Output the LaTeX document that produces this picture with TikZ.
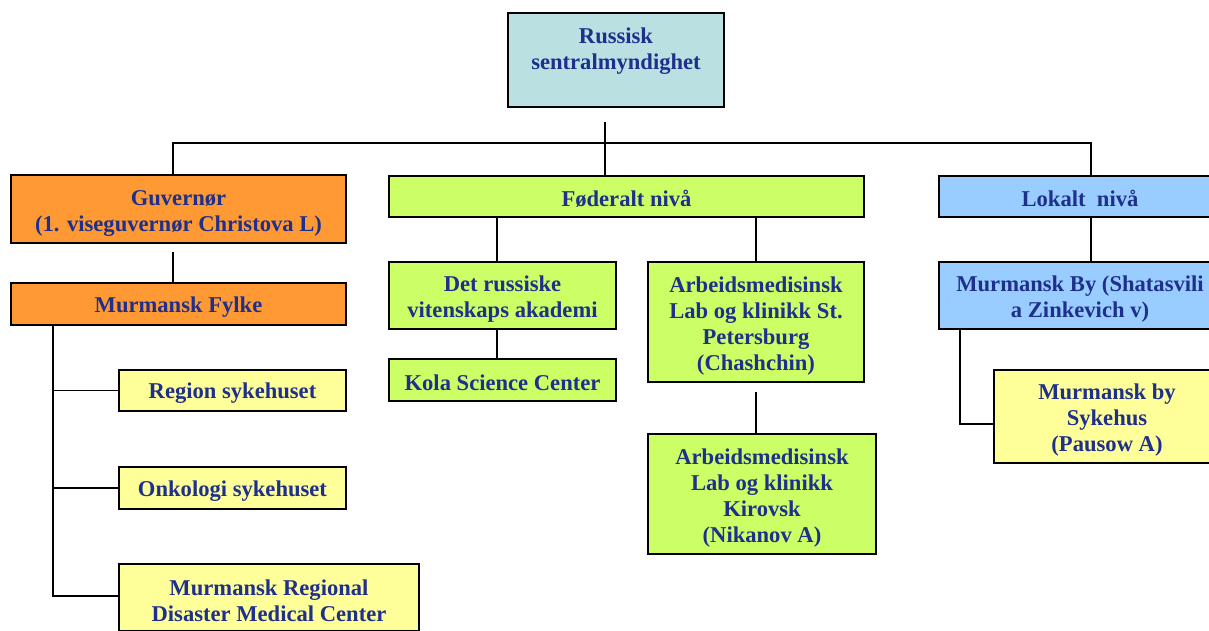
\documentclass[tikz,border=0pt]{standalone}
\usepackage{fontspec}
\setmainfont{Liberation Serif}
\usetikzlibrary{backgrounds}
\definecolor{txtblue}{RGB}{30,48,140}
\definecolor{topfill}{RGB}{186,224,226}
\definecolor{orfill}{RGB}{255,153,51}
\definecolor{grfill}{RGB}{204,255,102}
\definecolor{blfill}{RGB}{153,204,255}
\definecolor{yefill}{RGB}{255,255,153}
\newcommand\tstrut{\rule{0pt}{23pt}}
\begin{document}
\begin{tikzpicture}[x=1pt,y=-1pt,
  box/.style={draw=black,line width=1.6pt,inner sep=0pt,align=center,
    text=txtblue,font=\fontsize{22.6}{26}\selectfont\bfseries,
    execute at begin node={\rule{0pt}{21pt}}},
  conn/.style={draw=black,line width=1.6pt}]
\useasboundingbox (0,0) rectangle (1209,630);
\clip (0,0) rectangle (1209,630);
% boxes
\node[box,fill=topfill,minimum width=216pt,minimum height=94pt] (top) at (616,60)
  {Russisk\\sentralmyndighet\rule[-23pt]{0pt}{0pt}};
\node[box,fill=orfill,minimum width=335pt,minimum height=68pt] (guv) at (178.5,209)
  {\tstrut Guvernør\\(1. viseguvernør Christova L)};
\node[box,fill=orfill,minimum width=335pt,minimum height=42pt] (fylke) at (178.5,304)
  {Murmansk Fylke};
\node[box,fill=yefill,minimum width=227pt,minimum height=41pt] (reg) at (232.5,390.5)
  {Region sykehuset};
\node[box,fill=yefill,minimum width=227pt,minimum height=42pt] (onk) at (232.5,488)
  {Onkologi sykehuset};
\node[box,fill=yefill,minimum width=300pt,minimum height=67pt] (dis) at (269,597.5)
  {\tstrut Murmansk Regional\\Disaster Medical Center};
\node[box,fill=grfill,minimum width=475pt,minimum height=41pt] (fed) at (626.5,196.5)
  {Føderalt nivå};
\node[box,fill=grfill,minimum width=227pt,minimum height=67pt] (det) at (502.5,295.5)
  {\tstrut Det russiske\\vitenskaps akademi};
\node[box,fill=grfill,minimum width=227pt,minimum height=42pt] (kola) at (502.5,380)
  {Kola Science Center};
\node[box,fill=grfill,minimum width=216pt,minimum height=120pt] (arb) at (756,322)
  {\tstrut Arbeidsmedisinsk\\Lab og klinikk St.\\Petersburg\\(Chashchin)};
\node[box,fill=grfill,minimum width=228pt,minimum height=120pt] (kir) at (762,494)
  {\tstrut Arbeidsmedisinsk\\Lab og klinikk\\Kirovsk\\(Nikanov A)};
\node[box,fill=blfill,minimum width=282pt,minimum height=41pt] (lok) at (1080,196.5)
  {Lokalt\ \ nivå};
\node[box,fill=blfill,minimum width=282pt,minimum height=67pt] (murby) at (1080,295.5)
  {\tstrut Murmansk By (Shatasvili\\a Zinkevich v)};
\node[box,fill=yefill,minimum width=226pt,minimum height=93pt] (syk) at (1107,416.5)
  {\tstrut Murmansk by\\Sykehus\\(Pausow A)};
% connectors
\begin{scope}[on background layer]
\fill[white] (0,0) rectangle (1209,630);
\coordinate (j) at (605,143);
\draw[conn] ([xshift=-11pt,yshift=-14pt]top.south) -- (j);
\draw[conn] ([xshift=-5.5pt]guv.north) |- (j) -| ([xshift=11pt]lok.north);
\draw[conn] ([xshift=-21.5pt]fed.north) -- (j);
\draw[conn] ([xshift=-5.5pt,yshift=-8pt]guv.south) -- ([xshift=-5.5pt]fylke.north);
\draw[conn] ([xshift=43pt]fylke.south west) |- (reg.west);
\draw[conn] ([xshift=43pt]fylke.south west) |- (onk.west);
\draw[conn] ([xshift=43pt]fylke.south west) |- ([yshift=1.5pt]dis.west);
\draw[conn] ([xshift=-5.5pt]det.north) -- ([xshift=-5.5pt]det.north |- fed.south);
\draw[conn] ([xshift=-5.5pt]kola.north) -- ([xshift=-5.5pt]kola.north |- det.south);
\draw[conn] (arb.north) -- (arb.north |- fed.south);
\draw[conn] ([yshift=-9pt]arb.south) -- ([yshift=-9pt]arb.south |- kir.north);
\draw[conn] ([xshift=11pt]lok.south) -- ([xshift=11pt]lok.south |- murby.north);
\draw[conn] ([xshift=22pt]murby.south west) |- ([yshift=-7.5pt]syk.west);
\end{scope}
\end{tikzpicture}
\end{document}
